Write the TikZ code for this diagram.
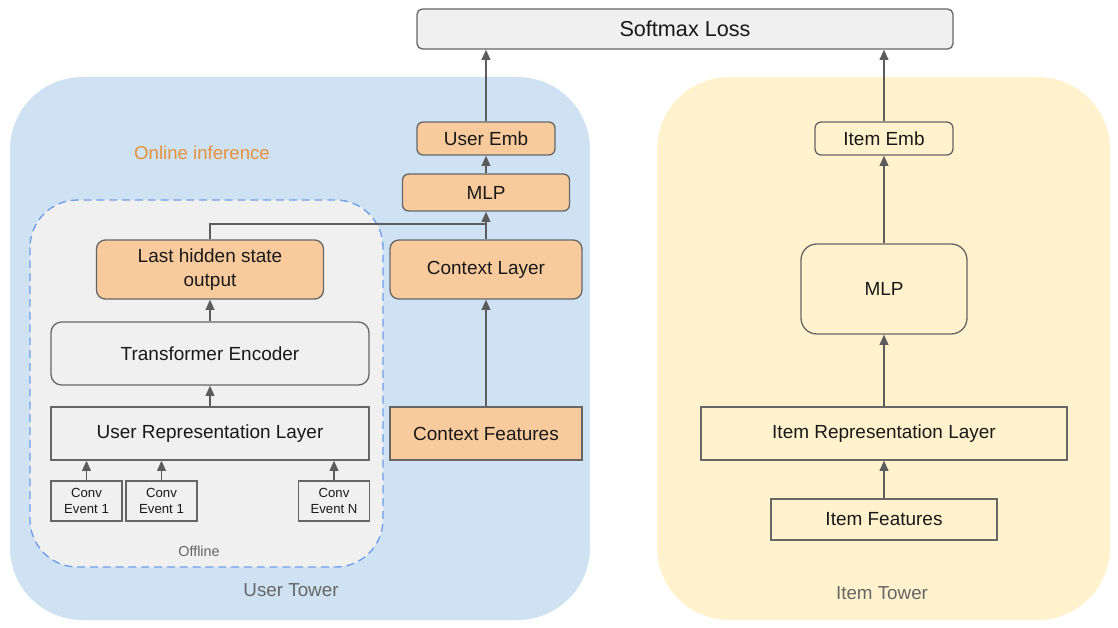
\documentclass[tikz,border=0pt]{standalone}
\usepackage{fontspec}
\setmainfont{Liberation Sans}
\usetikzlibrary{arrows.meta,calc}
\definecolor{ubg}{HTML}{CFE2F3}
\definecolor{ibg}{HTML}{FFF2CC}
\definecolor{org}{HTML}{F9CB9C}
\definecolor{lgr}{HTML}{F0F0F0}
\definecolor{edg}{HTML}{666666}
\definecolor{dsh}{HTML}{6D9EEB}
\definecolor{onl}{HTML}{E69138}
\tikzset{
  >={Triangle[length=5.8pt,width=5pt]},
  blk/.style={draw=edg,line width=0.75pt,inner sep=0pt,align=center,font=\fontsize{10.8}{13.4}\selectfont,text=black!90},
  rblk/.style={blk,rounded corners=3.5pt},
  ob/.style={rblk,fill=org},
  cv/.style={blk,fill=lgr,minimum width=1.42cm,minimum height=0.8cm,font=\fontsize{7.5}{9.5}\selectfont},
  lbl/.style={text=edg,inner sep=0pt},
  ar/.style={->,draw=edg!90!black,line width=0.75pt},
  every picture/.style={line width=0.75pt},
}
\begin{document}
\begin{tikzpicture}[x=0.02cm,y=-0.02cm]
\useasboundingbox (0,0) rectangle (1118,628);
% towers
\fill[ubg,rounded corners=1.45cm] (10,77) rectangle (590,620);
\fill[ibg,rounded corners=1.45cm] (657,77) rectangle (1110,620);
\filldraw[fill=lgr,draw=dsh,dash pattern=on 4.5pt off 2.8pt,line width=0.75pt,rounded corners=0.95cm] (30,200) rectangle (383,567);
% top
\node[rblk,fill=lgr,rounded corners=3pt,minimum width=10.72cm,minimum height=0.8cm,font=\fontsize{12.3}{14}\selectfont] (soft) at (685,29){Softmax Loss};
% user side
\node[ob,minimum width=2.76cm,minimum height=0.66cm] (uemb) at (486,138.5){User Emb};
\node[ob,minimum width=3.34cm,minimum height=0.74cm] (umlp) at (486,192.5){MLP};
\node[ob,rounded corners=5pt,minimum width=3.84cm,minimum height=1.18cm] (ctxl) at (486,269.5){Context Layer};
\node[blk,fill=org,minimum width=3.84cm,minimum height=1.06cm] (ctxf) at (486,433.5){Context Features};
\node[ob,rounded corners=5pt,minimum width=4.54cm,minimum height=1.18cm] (last) at (210,269.5){Last hidden state\\output};
\node[rblk,fill=lgr,rounded corners=6pt,minimum width=6.36cm,minimum height=1.26cm] (trans) at (210,353.5){Transformer Encoder};
\node[blk,fill=lgr,minimum width=6.36cm,minimum height=1.06cm] (urep) at (210,433.5){User Representation Layer};
\node[cv] (cv1) at (86.5,501){Conv\\Event 1};
\node[cv] (cv2) at (161.5,501){Conv\\Event 1};
\node[cv] (cvn) at (334,501){Conv\\Event N};
% item side
\node[rblk,fill=ibg,minimum width=2.76cm,minimum height=0.66cm] (iemb) at (884,138.5){Item Emb};
\node[rblk,fill=ibg,rounded corners=9pt,minimum width=3.32cm,minimum height=1.8cm] (imlp) at (884,289){MLP};
\node[blk,fill=ibg,minimum width=7.32cm,minimum height=1.06cm] (irep) at (884,433.5){Item Representation Layer};
\node[blk,fill=ibg,minimum width=4.52cm,minimum height=0.82cm] (ifeat) at (884,519.5){Item Features};
% labels
\node[lbl,text=onl,font=\fontsize{10.6}{12}\selectfont] (onlin) at (202,153){Online inference};
\node[lbl,font=\fontsize{8.2}{10}\selectfont] (offl) at (199,551){Offline};
\node[lbl,font=\fontsize{10.7}{12}\selectfont] (utow) at (291,590){User Tower};
\node[lbl,font=\fontsize{10.7}{12}\selectfont] (itow) at (882,593){Item Tower};
% arrows
\coordinate (jn) at (486,224);
\draw[draw=edg!90!black] (last.north) |- (jn);
\draw[ar] (ctxl.north) -- (umlp.south);
\draw[ar] (umlp.north) -- (uemb.south);
\draw[ar] (uemb.north) -- (uemb.north |- soft.south);
\draw[ar] (ctxf.north) -- (ctxl.south);
\draw[ar] (trans.north) -- (trans.north |- last.south);
\draw[ar] (urep.north) -- (trans.south);
\draw[ar] (cv1.north) -- (cv1.north |- urep.south);
\draw[ar] (cv2.north) -- (cv2.north |- urep.south);
\draw[ar] (cvn.north) -- (cvn.north |- urep.south);
\draw[ar] (ifeat.north) -- (irep.south);
\draw[ar] (irep.north) -- (imlp.south);
\draw[ar] (imlp.north) -- (iemb.south);
\draw[ar] (iemb.north) -- (iemb.north |- soft.south);
\end{tikzpicture}
\end{document}
